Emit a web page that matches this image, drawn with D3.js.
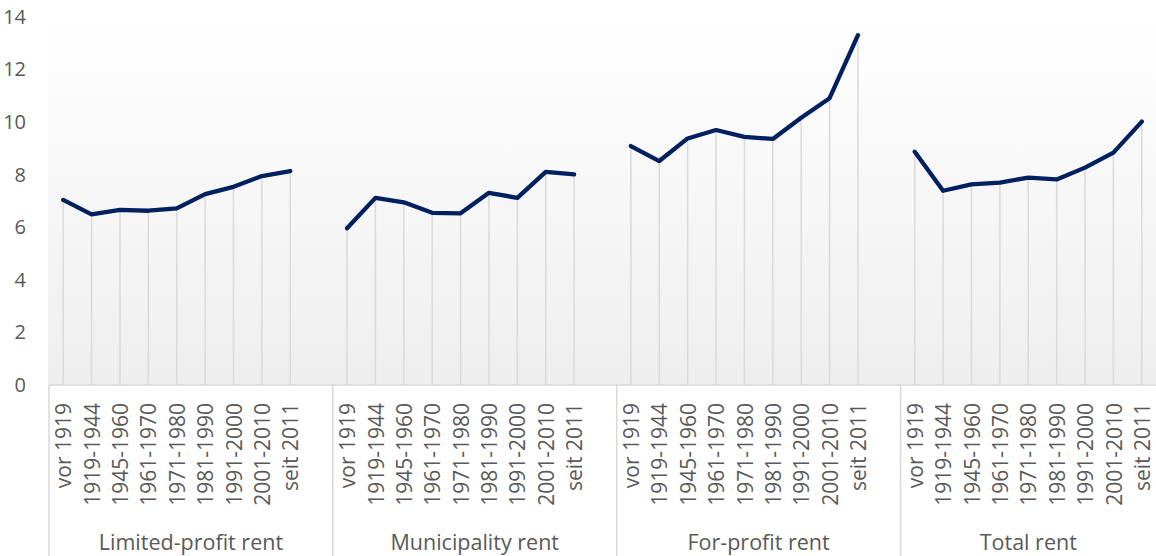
<!DOCTYPE html>
<html>
<head>
<meta charset="utf-8">
<script src="https://cdn.jsdelivr.net/npm/d3@7"></script>
<style>
  body { margin: 0; background: #fff; }
  svg { display: block; font-family: "Open Sans", sans-serif; }
</style>
</head>
<body>
<script>
// categories and values
var periods = ['vor 1919', '1919-1944', '1945-1960', '1961-1970', '1971-1980', '1981-1990', '1991-2000', '2001-2010', 'seit 2011'];
var groups = ['Limited-profit rent', 'Municipality rent', 'For-profit rent', 'Total rent'];
var limitedProfit = [7.04, 6.49, 6.66, 6.63, 6.72, 7.26, 7.54, 7.95, 8.14];
var municipality = [5.96, 7.12, 6.95, 6.55, 6.53, 7.31, 7.12, 8.11, 8.01];
var forProfit = [9.09, 8.52, 9.38, 9.70, 9.44, 9.36, 10.17, 10.91, 13.31];
var totalRent = [8.87, 7.39, 7.63, 7.70, 7.89, 7.82, 8.27, 8.84, 10.02];
var yTicks = [0, 2, 4, 6, 8, 10, 12, 14];

var seriesList = [limitedProfit, municipality, forProfit, totalRent];

var width = 1156, height = 556;
var margin = { top: 17, right: 0, bottom: 171, left: 49 };
var slotsPerGroup = periods.length + 1;   // one empty slot between groups
var nSlots = groups.length * slotsPerGroup - 1;

var svg = d3.select("body").append("svg")
    .attr("width", width)
    .attr("height", height);

var x = d3.scaleBand()
    .domain(d3.range(nSlots))
    .range([margin.left, width - margin.right])
    .paddingInner(0).paddingOuter(0);

var y = d3.scaleLinear()
    .domain([0, 14])
    .range([height - margin.bottom, margin.top]);

// plot background gradient
var grad = svg.append("defs").append("linearGradient")
    .attr("id", "bg").attr("x1", 0).attr("y1", 0).attr("x2", 0).attr("y2", 1);
grad.append("stop").attr("offset", "0%").attr("stop-color", "#ffffff");
grad.append("stop").attr("offset", "100%").attr("stop-color", "#eeeeee");

svg.append("rect")
    .attr("x", margin.left - 1)
    .attr("y", y(14))
    .attr("width", width - margin.left + 1)
    .attr("height", y(0) - y(14))
    .attr("fill", "url(#bg)");

// y axis labels
svg.append("g")
    .attr("transform", "translate(26,0)")
    .call(d3.axisLeft(y).tickValues(yTicks).tickSize(0).tickPadding(0))
    .call(function (g) { g.select(".domain").remove(); })
    .selectAll("text")
    .attr("fill", "#595959")
    .style("font-size", "20px")
    .style("font-family", "Open Sans");

// build point data
var points = [];
seriesList.forEach(function (vals, g) {
    var pts = vals.map(function (v, i) {
        return { slot: g * slotsPerGroup + i, value: v, label: periods[i], group: g };
    });
    points.push(pts);
});

var cx = function (d) { return x(d.slot) + x.bandwidth() / 2; };

// drop lines
svg.append("g").selectAll("line")
    .data(points.flat())
    .join("line")
    .attr("x1", cx).attr("x2", cx)
    .attr("y1", function (d) { return y(d.value); })
    .attr("y2", y(0))
    .attr("stroke", "#d9d9d9")
    .attr("stroke-width", 1.5);

// category axis line
svg.append("line")
    .attr("x1", margin.left).attr("x2", width)
    .attr("y1", y(0)).attr("y2", y(0))
    .attr("stroke", "#d9d9d9").attr("stroke-width", 1.5);

// group separators
svg.append("g").selectAll("line")
    .data(groups)
    .join("line")
    .attr("x1", function (d, g) { return x(g * slotsPerGroup); })
    .attr("x2", function (d, g) { return x(g * slotsPerGroup); })
    .attr("y1", y(0)).attr("y2", height)
    .attr("stroke", "#d9d9d9").attr("stroke-width", 1.5);

// lines
var line = d3.line()
    .x(cx)
    .y(function (d) { return y(d.value); });

svg.append("g").selectAll("path")
    .data(points)
    .join("path")
    .attr("d", line)
    .attr("fill", "none")
    .attr("stroke", "#002060")
    .attr("stroke-width", 4.3)
    .attr("stroke-linejoin", "round")
    .attr("stroke-linecap", "round");

// period labels, rotated
svg.append("g").selectAll("text")
    .data(points.flat())
    .join("text")
    .attr("transform", function (d) { return "translate(" + (cx(d) + 1) + "," + (y(0) + 18) + ") rotate(-90)"; })
    .attr("text-anchor", "end")
    .attr("dy", "0.34em")
    .attr("fill", "#595959")
    .style("font-size", "21px")
    .text(function (d) { return d.label; });

// group labels
svg.append("g").selectAll("text")
    .data(groups)
    .join("text")
    .attr("x", function (d, g) {
        var start = x(g * slotsPerGroup);
        var end = g === groups.length - 1 ? width : x((g + 1) * slotsPerGroup);
        return (start + end) / 2;
    })
    .attr("y", 550)
    .attr("text-anchor", "middle")
    .attr("fill", "#595959")
    .style("font-size", "21.5px")
    .text(function (d) { return d; });
</script>
</body>
</html>
